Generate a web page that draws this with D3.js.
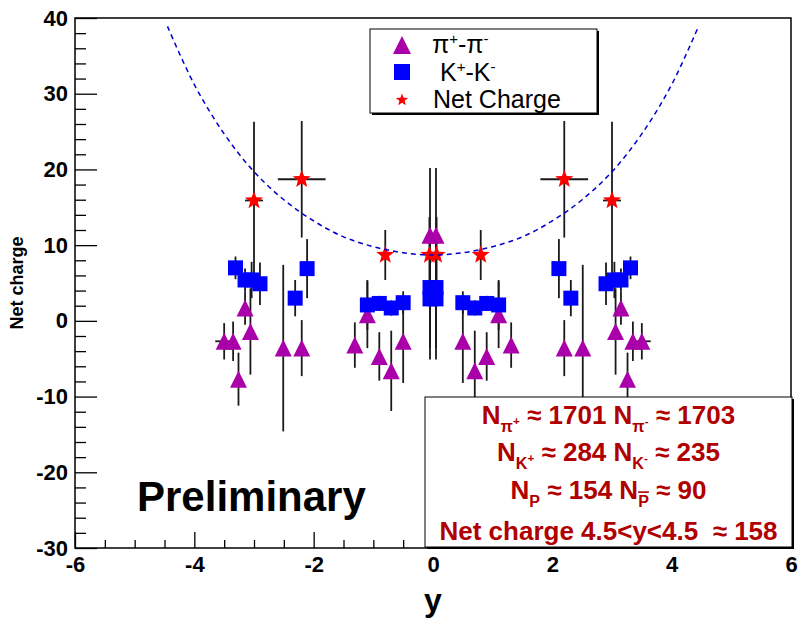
<!DOCTYPE html>
<html><head><meta charset="utf-8">
<script src="https://cdn.jsdelivr.net/npm/d3@7"></script>
<style>
html,body{margin:0;padding:0;background:#fff;}
svg{display:block;}
text{font-family:"Liberation Sans",Arial,Helvetica,sans-serif;}
</style></head>
<body>
<script>
// ---- data ----
const piX  = [-3.50,-3.35,-3.26,-3.15,-3.06,-2.51,-2.20,-1.31,-1.10,-0.90,-0.70,-0.50,-0.05,0.05,0.50,0.70,0.90,1.10,1.31,2.20,2.51,3.06,3.15,3.26,3.35,3.50];
const piY  = [-2.7,-2.7,-7.7,1.7,-1.4,-3.6,-3.6,-3.2,0.8,-4.7,-6.6,-2.7,11.3,11.3,-2.7,-6.6,-4.7,0.8,-3.2,-3.6,-3.6,-1.4,1.7,-7.7,-2.7,-2.7];
const piEy = [2.4,2.6,3.5,2.2,5.7,11.0,3.7,3.0,4.4,3.2,5.3,5.5,8.9,8.9,5.5,5.3,3.2,4.4,3.0,3.7,11.0,5.7,2.2,3.5,2.6,2.4];
const piEx = [0.15,0,0,0,0,0,0,0,0,0,0,0,0,0,0,0,0,0,0,0,0,0,0,0,0,0.15];

const kX  = [-3.31,-3.15,-3.04,-2.90,-2.31,-2.11,-1.10,-0.90,-0.70,-0.50,-0.05,-0.05,0.05,0.05,0.50,0.70,0.90,1.10,2.11,2.31,2.90,3.04,3.15,3.31];
const kY  = [7.0,5.4,5.4,4.9,3.0,6.9,2.1,2.3,1.7,2.4,4.4,2.9,4.4,2.9,2.4,1.7,2.3,2.1,6.9,3.0,4.9,5.4,5.4,7.0];
const kEy = [1.5,1.5,2.4,2.8,2.4,3.9,3.3,1.0,1.0,1.5,8.0,8.0,8.0,8.0,1.5,1.0,1.0,3.3,3.9,2.4,2.8,2.4,1.5,1.5];

const ncX  = [-3.0,-2.2,-0.8,-0.06,0.06,0.8,2.2,3.0];
const ncY  = [15.9,18.7,8.7,8.7,8.7,8.7,18.7,15.9];
const ncEy = [10.4,7.7,3.3,5.0,5.0,3.3,7.7,10.4];
const ncEx = [0.15,0.4,0,0,0,0,0.4,0.15];

// dashed fit curve
const curveX = [-4.45,-4,-3.5,-3,-2.5,-2,-1.5,-1,-0.5,0,0.5,1,1.5,2,2.5,3,3.5,4,4.45];
const curveY = [38.9,31.2,24.7,19.7,16.0,13.2,11.1,9.8,9.0,8.7,9.0,9.8,11.1,13.2,16.0,19.7,24.7,31.2,38.9];

const xTicks = [-6,-4,-2,0,2,4,6];
const yTicks = [-30,-20,-10,0,10,20,30,40];

// ---- layout ----
const W=801,H=622;
const X0=75,X1=791,Y0=548,Y1=18;
const x = d3.scaleLinear().domain([-6,6]).range([X0,X1]);
const y = d3.scaleLinear().domain([-30,40]).range([Y0,Y1]);

const svg = d3.select("body").append("svg").attr("width",W).attr("height",H);
svg.append("rect").attr("width",W).attr("height",H).attr("fill","#fff");

const FONT_B = "bold";
const ERR = "#1a1a1a";
const MAG = "#aa00aa", BLUE = "#0000ff", RED = "#ff0000", DARKRED = "#b00000";

// ---- axes ----
const xMinor = d3.range(-6,6.001,0.5).filter(v=>Math.abs(v-Math.round(v/2)*2)>1e-6);
const yMinor = d3.range(-30,40.001,2).filter(v=>Math.abs(v%10)>1e-6);

function styleAxis(g){
  g.selectAll("line").attr("stroke","#000").attr("stroke-width",1.3);
  g.select(".domain").remove();
  g.selectAll("text").attr("fill","#000").attr("font-size",22).attr("font-weight",FONT_B)
    .attr("font-family","'Liberation Sans',Arial,sans-serif");
}
const gx = svg.append("g").attr("transform",`translate(0,${Y0})`)
  .call(d3.axisBottom(x).tickValues(xTicks).tickSizeInner(-16).tickSizeOuter(0).tickPadding(8).tickFormat(d=>String(d)));
styleAxis(gx);
const gxm = svg.append("g").attr("transform",`translate(0,${Y0})`)
  .call(d3.axisBottom(x).tickValues(xMinor).tickSizeInner(-8).tickSizeOuter(0).tickFormat(""));
styleAxis(gxm);
const gy = svg.append("g").attr("transform",`translate(${X0},0)`)
  .call(d3.axisLeft(y).tickValues(yTicks).tickSizeInner(-22).tickSizeOuter(0).tickPadding(7).tickFormat(d=>String(d)));
styleAxis(gy);
const gym = svg.append("g").attr("transform",`translate(${X0},0)`)
  .call(d3.axisLeft(y).tickValues(yMinor).tickSizeInner(-11).tickSizeOuter(0).tickFormat(""));
styleAxis(gym);

// axis titles
svg.append("text").attr("x",x(0)).attr("y",611).attr("text-anchor","middle")
  .attr("font-size",32).attr("font-weight",FONT_B).text("y");
svg.append("text").attr("transform",`translate(23,283) rotate(-90)`).attr("text-anchor","middle")
  .attr("font-size",18).attr("font-weight",FONT_B).text("Net charge");

// ---- markers ----
function triPath(s){ const h=s/2; return `M0,${-h}L${h},${h}L${-h},${h}Z`; }
function sqPath(s){ const h=s/2; return `M${-h},${-h}H${h}V${h}H${-h}Z`; }
function starPath(R){ const r=R*0.42; let p=""; for(let i=0;i<10;i++){ const a=-Math.PI/2+i*Math.PI/5; const rr=i%2?r:R; p+=(i?"L":"M")+(rr*Math.cos(a)).toFixed(2)+","+(rr*Math.sin(a)).toFixed(2);} return p+"Z"; }

const plot = svg.append("g");
function errBars(xs,ys,eys,exs){
  const g=plot.append("g").attr("stroke",ERR).attr("stroke-width",1.8).attr("fill","none");
  xs.forEach((xv,i)=>{
    const ey=eys[i]||0, ex=exs?exs[i]:0;
    if(ey>0) g.append("line").attr("x1",x(xv)).attr("x2",x(xv)).attr("y1",y(ys[i]+ey)).attr("y2",y(ys[i]-ey));
    if(ex>0) g.append("line").attr("x1",x(xv-ex)).attr("x2",x(xv+ex)).attr("y1",y(ys[i])).attr("y2",y(ys[i]));
  });
}
errBars(ncX,ncY,ncEy,ncEx);
errBars(piX,piY,piEy,piEx);
errBars(kX,kY,kEy,null);

function markers(xs,ys,path,color){
  plot.append("g").selectAll("path").data(xs).join("path")
    .attr("d",path).attr("fill",color)
    .attr("transform",(d,i)=>`translate(${x(d)},${y(ys[i])})`);
}
markers(piX,piY,triPath(17),MAG);
markers(kX,kY,sqPath(15),BLUE);
markers(ncX,ncY,starPath(9.5),RED);

// dashed curve
plot.append("path").datum(curveX.map((v,i)=>[v,curveY[i]]))
  .attr("d",d3.line().x(d=>x(d[0])).y(d=>y(d[1])).curve(d3.curveCatmullRom))
  .attr("fill","none").attr("stroke","#0000cc").attr("stroke-width",1.5).attr("stroke-dasharray","5,4");

// frame
svg.append("rect").attr("x",X0).attr("y",Y1).attr("width",X1-X0).attr("height",Y0-Y1)
  .attr("fill","none").attr("stroke","#000").attr("stroke-width",1.5);

// ---- rich text helper ----
function rich(g,xp,yp,parts,size,opts){
  const t=g.append("text").attr("x",xp).attr("y",yp).attr("font-size",size)
    .attr("text-anchor",opts.anchor||"start").attr("fill",opts.fill||"#000")
    .attr("font-weight",opts.weight||"normal").style("white-space","pre");
  let off=0;
  parts.forEach(p=>{
    const [txt,kind]=p;
    let target=0, fs=size;
    if(kind==="sub"){target=size*0.32; fs=size*0.62;}
    else if(kind==="subsup"){target=size*0.05; fs=size*0.45;}
    else if(kind==="sup"){target=-size*0.38; fs=size*0.6;}
    const ts=t.append("tspan").attr("dy",target-off).attr("font-size",fs).text(txt);
    if(p[2]==="over") ts.style("text-decoration","overline");
    off=target;
  });
  return t;
}

// ---- legend ----
const leg = svg.append("g");
leg.append("rect").attr("x",372).attr("y",31).attr("width",227).attr("height",84).attr("fill","#000");
leg.append("rect").attr("x",370).attr("y",29).attr("width",227).attr("height",84).attr("fill","#fff").attr("stroke","#000").attr("stroke-width",1);
leg.append("path").attr("d",triPath(18)).attr("fill",MAG).attr("transform","translate(402,45)");
leg.append("path").attr("d",sqPath(16)).attr("fill",BLUE).attr("transform","translate(402,72)");
leg.append("path").attr("d",starPath(6.5)).attr("fill",RED).attr("transform","translate(402,100)");
rich(leg,432,53,[["π"],["+","sup"],["-π"],["-","sup"]],25,{});
rich(leg,433,81,[[" K"],["+","sup"],["-K"],["-","sup"]],25,{});
rich(leg,433,108,[["Net Charge"]],25,{});

// ---- stats box ----
const st = svg.append("g");
st.append("rect").attr("x",427).attr("y",399).attr("width",367).attr("height",150).attr("fill","#000");
st.append("rect").attr("x",425).attr("y",397).attr("width",367).attr("height",150).attr("fill","#fff").attr("stroke","#000").attr("stroke-width",1);
const cx=608.5;
const so={anchor:"middle",fill:DARKRED,weight:"bold"};
rich(st,cx,424,[["N"],["π","sub"],["+","subsup"],[" ≈ 1701 N"],["π","sub"],["-","subsup"],[" ≈ 1703"]],26,so);
rich(st,cx,461,[["N"],["K","sub"],["+","subsup"],[" ≈ 284 N"],["K","sub"],["-","subsup"],[" ≈ 235"]],26,so);
rich(st,cx,499,[["N"],["P","sub"],[" ≈ 154 N"],["P","sub","over"],[" ≈ 90"]],26,so);
rich(st,cx,540,[["Net charge 4.5<y<4.5  ≈ 158"]],26,so);

// Preliminary
svg.append("text").attr("x",137).attr("y",511).attr("font-size",42).attr("font-weight",FONT_B).text("Preliminary");
</script>
</body></html>
